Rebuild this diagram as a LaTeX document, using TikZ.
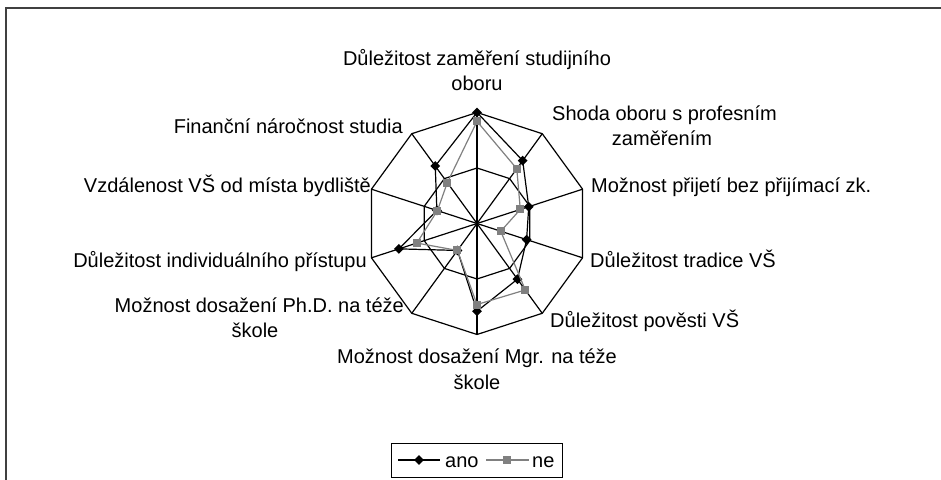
\documentclass[tikz,border=0pt]{standalone}
\usepackage{fontspec}
\setmainfont{Liberation Sans}
\usetikzlibrary{shapes.geometric}
\definecolor{serieGray}{HTML}{808080}
\definecolor{frameGray}{HTML}{404040}
\begin{document}
\begin{tikzpicture}[x=1pt,y=1pt,
  gridline/.style={black, line width=1.2pt, line join=miter},
  anoline/.style={black, line width=1.2pt, line join=round},
  neline/.style={serieGray, line width=1.2pt, line join=round},
  anomark/.style={diamond, fill=black, draw=none, inner sep=0pt, minimum width=10pt, minimum height=10pt},
  nemark/.style={rectangle, fill=serieGray, draw=none, inner sep=0pt, minimum size=8pt},
  lab/.style={font=\fontsize{20}{24}\selectfont, inner sep=0pt},
  framel/.style={frameGray, line width=1.3pt}
]
\useasboundingbox (0,0) rectangle (941,479);
% outer frame (top and left edges visible)
\coordinate (f1) at (6,-5);
\coordinate (f2) at (6,471);
\coordinate (f3) at (946,471);
\draw[framel] (f1) -- (f2) -- (f3);

% chart
\begin{scope}[shift={(477,255.5)}]
  \coordinate (c) at (0,0);
  \foreach \k in {0,...,9} {
    \pgfmathsetmacro{\ang}{90-36*\k}
    \coordinate (o\k) at (\ang:111);
    \coordinate (h\k) at (\ang:55.5);
  }
  \foreach \k in {0,...,9} { \draw[gridline] (c) -- (o\k); }
  \draw[gridline] (o0) -- (o1) -- (o2) -- (o3) -- (o4) -- (o5) -- (o6) -- (o7) -- (o8) -- (o9) -- cycle;
  \draw[gridline] (h0) -- (h1) -- (h2) -- (h3) -- (h4) -- (h5) -- (h6) -- (h7) -- (h8) -- (h9) -- cycle;

  % series ano
  \foreach \v [count=\n from 0] in {1.0,0.70,0.49,0.47,0.62,0.79,0.30,0.74,0.38,0.64} {
    \pgfmathsetmacro{\ang}{90-36*\n}
    \coordinate (a\n) at (\ang:{111*\v});
  }
  % series ne
  \foreach \v [count=\n from 0] in {0.92,0.61,0.41,0.225,0.74,0.73,0.30,0.57,0.375,0.455} {
    \pgfmathsetmacro{\ang}{90-36*\n}
    \coordinate (b\n) at (\ang:{111*\v});
  }
  \draw[anoline] (a0) -- (a1) -- (a2) -- (a3) -- (a4) -- (a5) -- (a6) -- (a7) -- (a8) -- (a9) -- cycle;
  \foreach \k in {0,...,9} { \node[anomark] (am\k) at (a\k) {}; }
  \draw[neline] (b0) -- (b1) -- (b2) -- (b3) -- (b4) -- (b5) -- (b6) -- (b7) -- (b8) -- (b9) -- cycle;
  \foreach \k in {0,...,9} { \node[nemark] (bm\k) at (b\k) {}; }
\end{scope}

% axis labels
\node[lab, anchor=base] (l0a) at (477,413) {Důležitost zaměření studijního};
\node[lab, anchor=base] (l0b) at (477,388) {oboru};
\node[lab, anchor=base west] (l1a) at (552,358) {Shoda oboru s profesním};
\node[lab, anchor=base] (l1b) at (662,333) {zaměřením};
\node[lab, anchor=base west] (l2) at (591,286) {Možnost přijetí bez přijímací zk.};
\node[lab, anchor=base west] (l3) at (590,211) {Důležitost tradice VŠ};
\node[lab, anchor=base west] (l4) at (550,151) {Důležitost pověsti VŠ};
\node[lab, anchor=base] (l5a) at (477,115) {Možnost dosažení Mgr. na téže};
\node[lab, anchor=base] (l5b) at (477,90) {škole};
\node[lab, anchor=base east] (l6a) at (404,166) {Možnost dosažení Ph.D. na téže};
\node[lab, anchor=base] (l6b) at (255,141) {škole};
\node[lab, anchor=base east] (l7) at (367,211) {Důležitost individuálního přístupu};
\node[lab, anchor=base east] (l8) at (371,286) {Vzdálenost VŠ od místa bydliště};
\node[lab, anchor=base east] (l9) at (403,345) {Finanční náročnost studia};

% legend
\coordinate (lg1) at (391,2);
\coordinate (lg2) at (562,36);
\draw[black, line width=1pt] (lg1) rectangle (lg2);
\coordinate (la1) at (398,19);
\coordinate (la2) at (440,19);
\draw[anoline] (la1) -- (la2);
\node[anomark] (lam) at (419,19) {};
\node[lab, anchor=base west] (lat) at (445,12) {ano};
\coordinate (lb1) at (486,19);
\coordinate (lb2) at (529,19);
\draw[neline] (lb1) -- (lb2);
\node[nemark] (lbm) at (507,19) {};
\node[lab, anchor=base west] (lbt) at (532,12) {ne};
\end{tikzpicture}
\end{document}
